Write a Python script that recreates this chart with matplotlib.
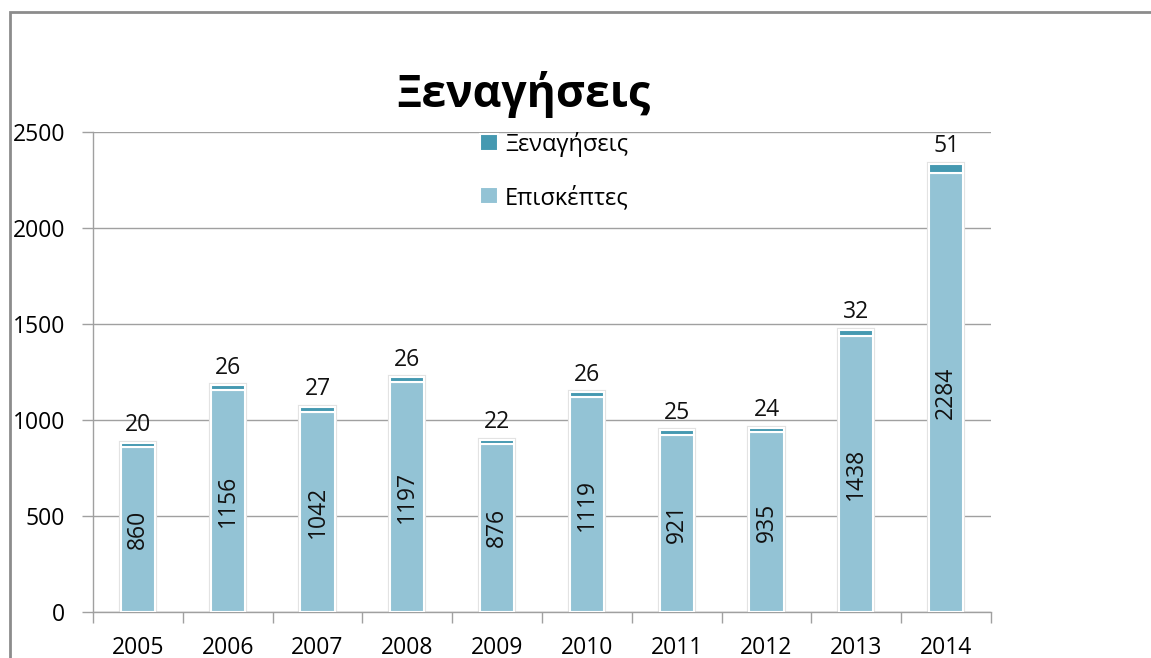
import numpy as np
import matplotlib.pyplot as plt
from matplotlib.patches import Rectangle

plt.rcParams['font.family'] = ['Open Sans', 'Noto Sans', 'DejaVu Sans']

years = ['2005', '2006', '2007', '2008', '2009', '2010', '2011', '2012', '2013', '2014']
visitors = [860, 1156, 1042, 1197, 876, 1119, 921, 935, 1438, 2284]
tours = [20, 26, 27, 26, 22, 26, 25, 24, 32, 51]

light = '#93c3d5'
dark = '#4599b1'
grid_clr = '#a0a0a0'

fig = plt.figure(figsize=(11.51, 6.58), dpi=100)
ax = fig.add_axes([93/1151, 46/658, 898/1151, 480/658])

#outer chart frame, cut off at right and bottom like the screenshot
fig.patches.append(Rectangle((10/1151, -0.1), 1.2, 0.1 + (1 - 12/658),
                             transform=fig.transFigure, fill=False,
                             edgecolor='#8c8c8c', lw=2))

x = np.arange(len(years))
w = 0.38

#soft shadow behind bars
ax.bar(x, np.add(visitors, tours), w, color='none', edgecolor='#e2e2e2', lw=3, zorder=2)
b1 = ax.bar(x, visitors, w, color=light, edgecolor='white', lw=1.5, zorder=3, label='Επισκέπτες')
b2 = ax.bar(x, tours, w, bottom=visitors, color=dark, edgecolor='white', lw=1.5, zorder=3, label='Ξεναγήσεις')

ax.bar_label(b1, labels=[str(v) for v in visitors], label_type='center',
             rotation=90, fontsize=16.5, color='#111111')
ax.bar_label(b2, labels=[str(v) for v in tours], padding=4,
             fontsize=16.5, color='#111111')

ax.set_xlim(-0.5, len(years) - 0.5)
ax.set_ylim(0, 2500)
ax.set_yticks(np.arange(0, 2501, 500))
ax.set_xticks(x)
ax.set_xticklabels(years)
ax.set_xticks(np.arange(-0.5, len(years)), minor=True)

ax.tick_params(axis='x', which='major', length=0, pad=17, labelsize=16.5)
ax.tick_params(axis='x', which='minor', length=8, width=1, color=grid_clr, direction='out')
ax.tick_params(axis='y', length=8, width=1, color=grid_clr, pad=12, labelsize=16.5)

ax.yaxis.grid(True, color=grid_clr, lw=1)
ax.set_axisbelow(True)
for s in ['top', 'right']:
    ax.spines[s].set_visible(False)
for s in ['left', 'bottom']:
    ax.spines[s].set_color(grid_clr)
    ax.spines[s].set_linewidth(1)

ax.legend(handles=[b2, b1], loc='upper left', bbox_to_anchor=(0.431, 1.0),
          frameon=False, fontsize=17, borderpad=0, borderaxespad=0,
          handlelength=0.75, handleheight=0.75, handletextpad=0.3,
          labelspacing=1.2)

fig.text(523/1151, 1 - 94/658, 'Ξεναγήσεις', ha='center', va='center',
         fontsize=32, fontweight='bold')

fig.savefig('out.png', dpi=100)
